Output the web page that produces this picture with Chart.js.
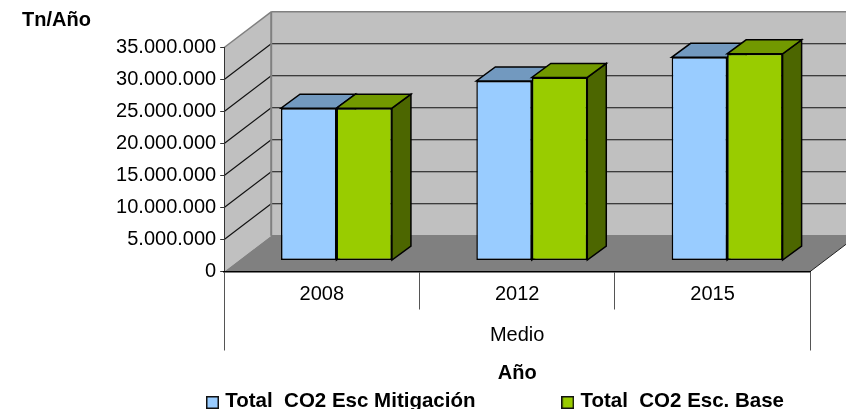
<!DOCTYPE html>
<html>
<head>
<meta charset="utf-8">
<script src="https://cdn.jsdelivr.net/npm/chart.js@4"></script>
<style>
  body { margin: 0; background: #fff; }
  #wrap { width: 846px; height: 409px; }
</style>
</head>
<body>
<div id="wrap"><canvas id="chart"></canvas></div>
<script>
const years = ['2008', '2012', '2015'];
const groupLabels = ['Medio'];
const mitigacion = [23800000, 28050000, 31750000];
const base = [23800000, 28600000, 32300000];
const FONT = '"Liberation Sans", Arial, sans-serif';

// depth of the walls and of the bars, in px
const WALL = { dx: 47, dy: -35.7 };
const BAR_SHIFT = { dx: 14.6, dy: -11 };
const BAR_DEPTH = { dx: 19, dy: -14 };

function poly(ctx, pts, fill, stroke, lw) {
    ctx.beginPath();
    pts.forEach(function(p, i) {
        if (i === 0) ctx.moveTo(p[0], p[1]);
        else ctx.lineTo(p[0], p[1]);
    });
    ctx.closePath();
    if (fill) {
        ctx.fillStyle = fill;
        ctx.fill();
    }
    if (stroke) {
        ctx.strokeStyle = stroke;
        ctx.lineWidth = lw || 1;
        ctx.stroke();
    }
}

function line(ctx, x1, y1, x2, y2, color, lw) {
    ctx.beginPath();
    ctx.moveTo(x1, y1);
    ctx.lineTo(x2, y2);
    ctx.strokeStyle = color;
    ctx.lineWidth = lw;
    ctx.stroke();
}

// legend square, wider than the legend box so the text sits close to it
function swatch(color) {
    const c = document.createElement('canvas');
    c.width = 13;
    c.height = 17;
    const g = c.getContext('2d');
    g.fillStyle = color;
    g.fillRect(1, 4, 11, 11);
    g.strokeStyle = '#111';
    g.lineWidth = 1.5;
    g.strokeRect(0.75, 3.75, 11.5, 11.5);
    return c;
}

const box3d = {
    id: 'box3d',
    afterLayout: function(chart) {
        // place the legend where the original has it
        chart.legend.left = 200;
        chart.legend.right = 846;
        chart.legend.top = 381.25;
    },
    beforeDraw: function(chart) {
        const ctx = chart.ctx;
        const x = chart.scales.x;
        const y = chart.scales.y;
        const l = x.left, r = x.right;
        const b = y.getPixelForValue(0);
        const t = y.getPixelForValue(35000000);
        const dx = WALL.dx, dy = WALL.dy;

        ctx.save();
        // left wall, back wall, floor
        poly(ctx, [[l, b], [l, t], [l + dx, t + dy], [l + dx, b + dy]], '#C0C0C0');
        poly(ctx, [[l + dx, b + dy], [l + dx, t + dy], [r + dx, t + dy], [r + dx, b + dy]], '#C0C0C0');
        poly(ctx, [[l, b], [r, b], [r + dx, b + dy], [l + dx, b + dy]], '#808080');

        // gridlines across both walls
        y.ticks.forEach(function(tick) {
            if (tick.value === 0 || tick.value === 35000000) return;
            const py = y.getPixelForValue(tick.value);
            line(ctx, l, py, l + dx, py + dy, '#111', 1.1);
            line(ctx, l + dx, py + dy, r + dx, py + dy, '#111', 1.1);
        });

        // wall edges
        line(ctx, l, t, l + dx, t + dy, '#808080', 1.5);
        line(ctx, l + dx, t + dy, r + dx, t + dy, '#808080', 1.5);
        line(ctx, l + dx, t + dy, l + dx, b + dy, '#808080', 2);
        line(ctx, l + dx, b + dy, r + dx, b + dy, '#808080', 1.5);
        line(ctx, r, b, r + dx, b + dy, '#222', 1);
        ctx.restore();

        // unit label above the value axis
        ctx.save();
        ctx.font = 'bold 20px ' + FONT;
        ctx.fillStyle = '#000';
        ctx.textBaseline = 'middle';
        ctx.fillText('Tn/Año', 22, 20);
        ctx.restore();
    },
    beforeDatasetsDraw: function(chart) {
        const ctx = chart.ctx;
        ctx.save();
        ctx.translate(BAR_SHIFT.dx, BAR_SHIFT.dy);
        const dx = BAR_DEPTH.dx, dy = BAR_DEPTH.dy;
        // tops and sides, back series first, the library draws the fronts after
        chart.data.datasets.forEach(function(ds, i) {
            chart.getDatasetMeta(i).data.forEach(function(bar) {
                const hw = bar.width / 2;
                const x0 = bar.x - hw, x1 = bar.x + hw;
                poly(ctx, [[x1, bar.base], [x1, bar.y], [x1 + dx, bar.y + dy], [x1 + dx, bar.base + dy]], ds.sideColor, '#000', 1.5);
                poly(ctx, [[x0, bar.y], [x1, bar.y], [x1 + dx, bar.y + dy], [x0 + dx, bar.y + dy]], ds.topColor, '#000', 1.5);
            });
        });
    },
    afterDatasetsDraw: function(chart) {
        chart.ctx.restore();
    }
};

new Chart(document.getElementById('chart'), {
    type: 'bar',
    data: {
        labels: years,
        datasets: [
            {
                label: 'Total  CO2 Esc Mitigación',
                data: mitigacion,
                backgroundColor: '#99CCFF',
                topColor: '#7299BF',
                sideColor: '#4C6680',
                borderColor: '#000',
                borderWidth: 1.5,
                borderSkipped: false,
                xAxisID: 'x'
            },
            {
                label: 'Total  CO2 Esc. Base',
                data: base,
                backgroundColor: '#99CC00',
                topColor: '#729900',
                sideColor: '#4C6600',
                borderColor: '#000',
                borderWidth: 1.5,
                borderSkipped: false,
                xAxisID: 'x'
            }
        ]
    },
    options: {
        responsive: true,
        maintainAspectRatio: false,
        animation: false,
        layout: { padding: { left: 0, top: 47.5, right: 35.8, bottom: 0 } },
        categoryPercentage: 0.568,
        barPercentage: 1,
        plugins: {
            tooltip: { enabled: false },
            legend: {
                position: 'bottom',
                align: 'start',
                labels: {
                    color: '#000',
                    font: { family: FONT, size: 20.5, weight: 'bold' },
                    usePointStyle: true,
                    pointStyleWidth: 5,
                    padding: 10,
                    generateLabels: function(chart) {
                        return chart.data.datasets.map(function(ds, i) {
                            return {
                                // the spaces keep the gap between the two entries
                                text: i === 0 ? ds.label + ' '.repeat(14) : ds.label,
                                pointStyle: swatch(ds.backgroundColor),
                                fillStyle: ds.backgroundColor,
                                strokeStyle: '#000',
                                lineWidth: 1,
                                datasetIndex: i
                            };
                        });
                    }
                }
            }
        },
        scales: {
            y: {
                min: 0,
                max: 35000000,
                ticks: {
                    stepSize: 5000000,
                    autoSkip: false,
                    color: '#000',
                    padding: 4,
                    font: { family: FONT, size: 20 },
                    callback: function(v) {
                        return v.toString().replace(/\B(?=(\d{3})+(?!\d))/g, '.');
                    }
                },
                grid: { drawOnChartArea: false, drawTicks: true, tickLength: 4, tickColor: '#333' },
                border: { display: true, color: '#333', width: 1 },
                // .2 keeps the grid ticks from rounding one pixel to the left
                afterFit: function(scale) { scale.width = 224.2; }
            },
            x: {
                weight: 0,
                ticks: {
                    color: '#000',
                    padding: -27,
                    maxRotation: 0,
                    font: { family: FONT, size: 20 }
                },
                grid: { offset: true, drawOnChartArea: false, tickLength: 38, tickColor: '#555' },
                border: { display: true, color: '#000', width: 1.5 },
                afterFit: function(scale) { scale.height = 37; }
            },
            x2: {
                type: 'category',
                position: 'bottom',
                weight: 1,
                labels: groupLabels,
                ticks: {
                    color: '#000',
                    padding: -27.5,
                    font: { family: FONT, size: 20 }
                },
                grid: { offset: true, drawOnChartArea: false, tickLength: 42, tickColor: '#555' },
                border: { display: false },
                title: {
                    display: true,
                    text: 'Año',
                    color: '#000',
                    font: { family: FONT, size: 20, weight: 'bold' },
                    padding: { top: 0, bottom: -16.5 }
                },
                afterFit: function(scale) { scale.height = 60; }
            }
        }
    },
    plugins: [box3d]
});
</script>
</body>
</html>
